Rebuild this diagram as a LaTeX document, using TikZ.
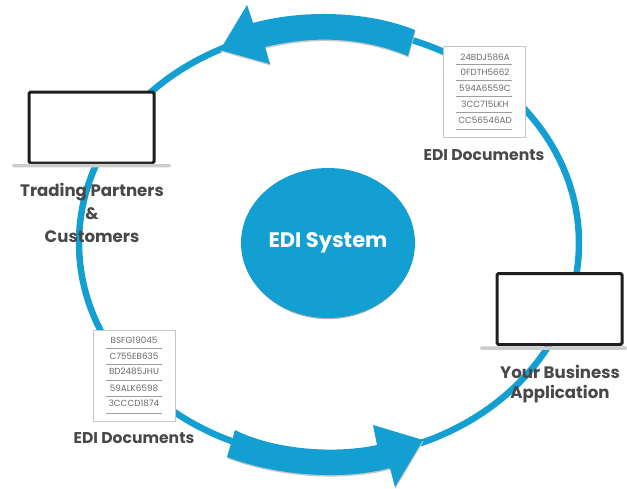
\documentclass[tikz,border=0pt]{standalone}
\usepackage{fontspec}
\setmainfont{Poppins}
\usetikzlibrary{shapes.geometric}
\definecolor{ediblue}{HTML}{149FD3}
\definecolor{labelgray}{HTML}{484848}
\definecolor{docgray}{HTML}{6A6A6A}
\tikzset{
  ringline/.style={ellipse,draw=ediblue,line width=6.5pt,minimum width=500pt,minimum height=430pt,inner sep=0pt},
  hub/.style={ellipse,fill=ediblue,minimum width=174pt,minimum height=150pt,inner sep=0pt,text=white,font=\bfseries\fontsize{21}{24}\selectfont},
  hubshadow/.style={ellipse,fill=black!30,minimum width=172pt,minimum height=150pt,inner sep=0pt},
  screen/.style={draw=black!88,fill=white,line width=3pt,rounded corners=1.5pt,minimum width=125pt,minimum height=71pt,inner sep=0pt},
  laptopbase/.style={fill=black!20,rounded corners=1.5pt,inner sep=0pt,minimum height=3.5pt},
  label/.style={text=labelgray,font=\bfseries\fontsize{16.6}{18}\selectfont,inner sep=0pt},
  doclabel/.style={text=labelgray,font=\bfseries\fontsize{15.6}{18}\selectfont,inner sep=0pt},
  docbox/.style={draw=black!22,fill=white,line width=1pt,inner sep=0pt,minimum width=82pt,minimum height=91pt},
  docrow/.style={text=docgray,font=\fontsize{8.8}{10}\selectfont,inner sep=0pt},
  docrule/.style={draw=black!38,line width=0.8pt},
  bigarrow/.style={fill=ediblue},
  bigshadow/.style={fill=black!22}
}
\begin{document}
\begin{tikzpicture}[x=1pt,y=-1pt]
\useasboundingbox (0,0) rectangle (627,488);
\node[ringline] (ring) at (329,243) {};
% top thick arrow
\path[bigshadow,shift={(0.5,1.5)}] (220,50) -- (247,5) -- (253,23) .. controls (300,10) and (365,10) .. (415,30) -- (408,56) .. controls (360,36) and (310,36) .. (265,47) -- (270,64) -- cycle;
\path[bigarrow] (220,50) -- (247,5) -- (253,23) .. controls (300,10) and (365,10) .. (415,30) -- (408,56) .. controls (360,36) and (310,36) .. (265,47) -- (270,64) -- cycle;
% bottom thick arrow
\path[bigshadow,shift={(0.5,1.5)}] (423,440) -- (373,425) -- (377,445) .. controls (330,455) and (270,448) .. (235,430) -- (227,457) .. controls (280,477) and (345,480) .. (390,468) -- (395,487) -- cycle;
\path[bigarrow] (423,440) -- (373,425) -- (377,445) .. controls (330,455) and (270,448) .. (235,430) -- (227,457) .. controls (280,477) and (345,480) .. (390,468) -- (395,487) -- cycle;
% hub
\node[hubshadow] (hubback) at (328,244.2) {};
\node[hub] (hub) at (328,243) {EDI System};
% left laptop
\node[screen] (screenL) at (91.5,127.5) {};
\node[laptopbase,minimum width=159pt] (baseL) at (91.5,165.5) {};
\node[label] (tp1) at (92,192) {Trading Partners};
\node[label] (tp2) at (92,214) {\&};
\node[label] (tp3) at (92,236.5) {Customers};
% right laptop
\node[screen] (screenR) at (559.5,309) {};
\node[laptopbase,minimum width=147pt] (baseR) at (553.5,348) {};
\node[label] (ba1) at (560,371.5) {Your Business};
\node[label] (ba2) at (560,394.5) {Application};
% upper documents
\node[docbox] (docA) at (484,91.5) {};
\foreach \yy/\tx/\nm in {57/24BDJ586A/a1,72.5/0FDTH5662/a2,88.5/594A6559C/a3,104.5/3CC715LKH/a4,120/CC56546AD/a5}
  \node[docrow] (\nm) at (485,\yy) {\tx};
\foreach \yy in {64,80,96,112,129}
  \draw[docrule] (456,\yy) -- (512,\yy);
\node[doclabel] (docAlabel) at (484,155) {EDI Documents};
% lower documents
\node[docbox] (docB) at (134,375.5) {};
\foreach \yy/\tx/\nm in {340/BSFG19045/b1,356/C755EB635/b2,371.5/BD2485JHU/b3,388/59ALK6598/b4,403/3CCCD1874/b5}
  \node[docrow] (\nm) at (134,\yy) {\tx};
\foreach \yy in {348,364,380,396,413}
  \draw[docrule] (106,\yy) -- (162,\yy);
\node[doclabel] (docBlabel) at (134,438.5) {EDI Documents};
\end{tikzpicture}
\end{document}
